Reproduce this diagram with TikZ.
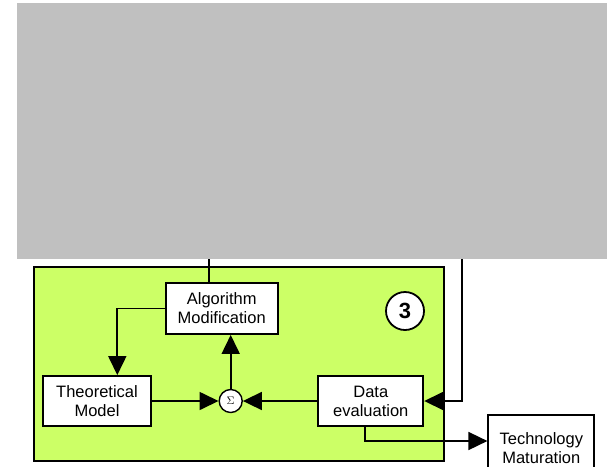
\documentclass[tikz,border=0pt]{standalone}
\usepackage{fontspec}
\setmainfont{Liberation Sans}
\usetikzlibrary{arrows.meta}
\definecolor{panelgray}{HTML}{C0C0C0}
\definecolor{limefill}{HTML}{CCFF66}
\tikzset{
  block/.style={draw=black, fill=white, line width=1.8pt, inner sep=0pt,
    align=center, font=\fontsize{16.5}{19}\selectfont},
  link/.style={draw=black, line width=1.7pt},
  arr/.style={link, -{Triangle[length=19pt, width=18pt]}},
}
\begin{document}
\begin{tikzpicture}[x=1pt, y=-1pt]
  \useasboundingbox (0,0) rectangle (607,466);
  \clip (0,0) rectangle (607,466);

  % upper grey panel
  \node[fill=panelgray, inner sep=0pt, minimum width=590pt, minimum height=256pt,
        anchor=north west] (top) at (17,3) {};

  % green stage frame
  \node[draw=black, fill=limefill, line width=2.2pt, inner sep=0pt,
        minimum width=410pt, minimum height=194pt, anchor=north west] (frame) at (33,266) {};

  % blocks
  \node[block, minimum width=112pt, minimum height=51pt] (alg) at (221.7,308.5) {Algorithm\\Modification};
  \node[block, minimum width=107.5pt, minimum height=50pt] (theo) at (97,401) {Theoretical\\Model};
  \node[block, minimum width=105pt, minimum height=50pt] (data) at (370.8,401) {Data\\evaluation};
  \node[block, minimum width=106pt, minimum height=67pt] (tech) at (541.3,448.5) {Technology\\Maturation};

  % summing junction
  \node[draw=black, fill=white, circle, line width=1.4pt, minimum size=23pt, inner sep=0pt]
    (sum) at (230.7,401) {\fontsize{11}{11}\selectfont$\Sigma$};

  % stage number
  \node[draw=black, fill=white, circle, line width=1.8pt, minimum size=38pt, inner sep=0pt,
        font=\fontsize{22}{22}\selectfont\bfseries] (num) at (405,311) {3};

  % connectors
  \coordinate (feedA) at (209,259);
  \coordinate (feedB) at (462.3,259);
  \draw[link] (feedA) -- (feedA |- alg.north);
  \draw[arr] (alg.west) -| ([xshift=20.3pt]theo.north);
  \draw[arr] (theo.east) -- (sum.west);
  \draw[arr] (data.west) -- (sum.east);
  \draw[arr] (sum.north) -- (sum.north |- alg.south);
  \draw[arr] (feedB) |- (data.east);
  \draw[arr] ([xshift=-5.5pt]data.south) |- ([yshift=7.5pt]tech.west);
\end{tikzpicture}
\end{document}
